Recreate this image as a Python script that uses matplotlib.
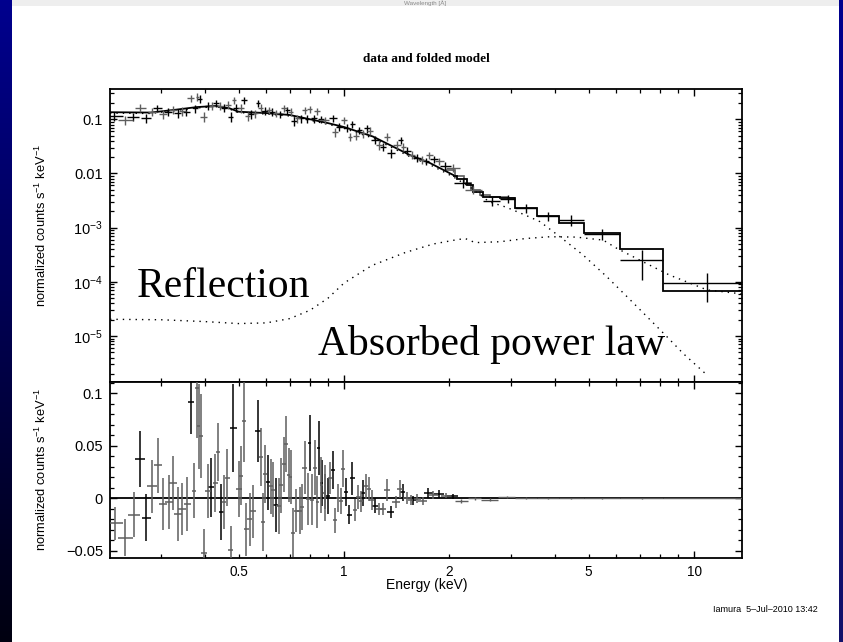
import numpy as np
import matplotlib
matplotlib.use("Agg")
import matplotlib.pyplot as plt
from matplotlib.patches import Rectangle
from matplotlib.colors import LinearSegmentedColormap
from matplotlib.ticker import FixedLocator, FuncFormatter, LogLocator, MultipleLocator, FixedFormatter, NullFormatter

# ---------------- data (energies in keV, counts s^-1 keV^-1) ----------------
# folded total model, smooth low-energy part
model_E = [0.2145, 0.28, 0.33, 0.38, 0.43, 0.47, 0.50, 0.60, 0.70, 0.80, 0.90, 1.00,
           1.21, 1.54, 1.76, 2.05]
model_v = [0.135, 0.133, 0.150, 0.168, 0.176, 0.160, 0.138, 0.130, 0.120, 0.100, 0.085,
           0.072, 0.048, 0.022, 0.0156, 0.0094]
# folded total model, binned high-energy part (instrument 1)
model_step_edges = [2.05, 2.10, 2.24, 2.33, 2.50, 2.79, 3.08, 3.55, 4.10, 4.85, 6.15, 8.15, 14.6]
model_step_vals = [0.0090, 0.0080, 0.0061, 0.0046, 0.0037, 0.0035, 0.0023, 0.00164, 0.00120,
                   0.00081, 0.000405, 0.000069]
# folded total model, binned (instrument 2)
model2_step_edges = [1.95, 2.08, 2.20, 2.30, 2.45, 2.62, 2.95, 3.08]
model2_step_vals = [0.0118, 0.0088, 0.0068, 0.0050, 0.0040, 0.0037, 0.0036]

# reflection component
refl_E = [0.2145, 0.30, 0.40, 0.50, 0.60, 0.70, 0.80, 0.90, 1.00, 1.20, 1.50, 1.80, 2.10,
          2.22, 2.37, 2.79, 3.30, 3.87, 4.60, 5.50, 6.00, 7.10, 8.50, 10.9, 13.7]
refl_v = [2.04e-5, 2.0e-5, 1.85e-5, 1.7e-5, 1.75e-5, 2.1e-5, 3.0e-5, 5.0e-5, 9.5e-5, 2.0e-4,
          3.5e-4, 5.0e-4, 6.0e-4, 6.3e-4, 5.3e-4, 5.5e-4, 6.3e-4, 6.8e-4, 6.7e-4, 5.9e-4,
          4.2e-4, 2.4e-4, 1.34e-4, 7.1e-5, 6.0e-5]

# absorbed power-law component
pl_E = [0.2145, 0.28, 0.33, 0.38, 0.43, 0.47, 0.50, 0.60, 0.70, 0.80, 0.90, 1.00, 1.21,
        1.54, 1.76, 2.05, 2.30, 2.60, 2.90, 3.30, 3.63, 4.14, 4.82, 5.63, 6.44, 7.50, 8.37,
        9.30, 10.9]
pl_v = [0.130, 0.128, 0.145, 0.162, 0.170, 0.155, 0.133, 0.125, 0.115, 0.096, 0.081, 0.068,
        0.045, 0.0205, 0.0145, 0.0087, 0.0055, 0.0030, 0.0024, 0.0017, 0.00129, 0.00068,
        0.000313, 0.000125, 0.000053, 0.0000198, 0.0000097, 0.0000048, 0.0000019]

# data points, fine bins
data_E = [0.220, 0.237, 0.249, 0.262, 0.272, 0.283, 0.293, 0.304, 0.314, 0.325, 0.335, 0.345,
          0.354, 0.365, 0.376, 0.381, 0.387, 0.398, 0.410, 0.420, 0.432, 0.441, 0.454, 0.466,
          0.474, 0.485, 0.492, 0.507, 0.518, 0.530, 0.541, 0.556, 0.568, 0.578, 0.593, 0.609,
          0.623, 0.641, 0.655, 0.674, 0.689, 0.704, 0.720, 0.736, 0.752, 0.772, 0.786, 0.798,
          0.821, 0.839, 0.861, 0.881, 0.928, 0.942, 0.970, 1.000, 1.018, 1.040, 1.056, 1.080,
          1.106, 1.130, 1.160, 1.186, 1.226, 1.262, 1.295, 1.325, 1.363, 1.414, 1.452, 1.477,
          1.517, 1.561, 1.614, 1.668, 1.715, 1.754, 1.810, 1.873, 1.948, 2.045, 2.181, 2.340]
data_v = [0.116, 0.097, 0.112, 0.164, 0.107, 0.138, 0.160, 0.124, 0.138, 0.148, 0.129, 0.142,
          0.138, 0.244, 0.160, 0.260, 0.237, 0.112, 0.178, 0.178, 0.197, 0.178, 0.164, 0.184,
          0.112, 0.227, 0.164, 0.160, 0.227, 0.116, 0.124, 0.129, 0.197, 0.164, 0.142, 0.148,
          0.138, 0.129, 0.124, 0.160, 0.148, 0.138, 0.093, 0.104, 0.104, 0.148, 0.101, 0.155,
          0.104, 0.142, 0.101, 0.097, 0.104, 0.058, 0.073, 0.097, 0.070, 0.048, 0.081, 0.050,
          0.063, 0.055, 0.068, 0.061, 0.0415, 0.0335, 0.0313, 0.048, 0.0236, 0.0335, 0.0415,
          0.0313, 0.026, 0.0219, 0.0195, 0.0178, 0.0170, 0.0219, 0.0185, 0.0170, 0.0139,
          0.0128, 0.0066, 0.0050]
data_err = [0.022, 0.018, 0.020, 0.026, 0.020, 0.024, 0.026, 0.022, 0.024, 0.025, 0.024, 0.025,
            0.024, 0.035, 0.027, 0.040, 0.040, 0.022, 0.030, 0.030, 0.032, 0.030, 0.028, 0.030,
            0.022, 0.036, 0.028, 0.028, 0.036, 0.022, 0.022, 0.022, 0.030, 0.026, 0.024, 0.024,
            0.022, 0.021, 0.020, 0.025, 0.023, 0.022, 0.018, 0.018, 0.018, 0.022, 0.017, 0.023,
            0.017, 0.021, 0.016, 0.015, 0.016, 0.011, 0.012, 0.015, 0.012, 0.009, 0.013, 0.009,
            0.010, 0.009, 0.011, 0.010, 0.007, 0.006, 0.0055, 0.008, 0.0042, 0.0055, 0.0065,
            0.005, 0.0042, 0.0036, 0.0032, 0.0029, 0.0027, 0.0034, 0.0029, 0.0026, 0.0022,
            0.0020, 0.0012, 0.0009]

# data points, wide high-energy bins
hi_lo = [2.50, 2.79, 3.08, 3.55, 4.10, 4.85, 6.15, 8.15]
hi_hi = [2.79, 3.08, 3.55, 4.10, 4.85, 6.15, 8.15, 14.6]
hi_v = [0.0031, 0.0034, 0.00228, 0.00164, 0.00138, 0.00078, 0.00025, 0.000094]
hi_err = [0.0006, 0.0006, 0.0004, 0.0003, 0.00032, 0.00018, 0.00014, 0.000051]

# residuals (data - model), fine bins
res_E = [0.2222, 0.2372, 0.2512, 0.2618, 0.2723, 0.2827, 0.2941, 0.3040, 0.3156, 0.3246,
         0.3355, 0.3444, 0.3560, 0.3648, 0.3728, 0.3795, 0.3846, 0.3897, 0.3981, 0.4087,
         0.4177, 0.4288, 0.4365, 0.4461, 0.4541, 0.4641, 0.4746, 0.4828, 0.5002, 0.5088,
         0.5180, 0.5259, 0.5378, 0.5495, 0.5679, 0.5781, 0.5870, 0.5959, 0.6066, 0.6175,
         0.6268, 0.6381, 0.6508, 0.6621, 0.6726, 0.6842, 0.6950, 0.7042, 0.7149, 0.7306,
         0.7470, 0.7601, 0.7721, 0.7891, 0.7981, 0.8102, 0.8248, 0.8389, 0.8467, 0.8612,
         0.8808, 0.8636, 0.8826, 0.9018, 0.9120, 0.9283, 0.9426, 0.9632, 0.9786, 0.9954,
         1.0132, 1.0354, 1.0561, 1.0750, 1.0986, 1.1161, 1.1353, 1.1557, 1.1788, 1.1998,
         1.2264, 1.2616, 1.2952, 1.3243, 1.3595, 1.4080, 1.4454, 1.4713, 1.5104, 1.5508,
         1.5776, 1.6196, 1.6784, 1.7413, 1.7992, 1.8719, 1.9561, 2.0446]
res_r = [-0.024, -0.0377, -0.0155, 0.0373, -0.0186, 0.0113, 0.0317, -0.0054, -0.0038, 0.0144,
         -0.0148, -0.0101, -0.0054, 0.092, 0.0072, 0.1047, 0.0688, 0.0594, -0.0525, 0.0072,
         0.0104, 0.0144, 0.0443, -0.0129, -0.0035, 0.0198, -0.049, 0.067, 0.0088, 0.0217,
         0.0735, -0.0296, -0.0202, -0.0123, 0.0641, 0.039, -0.0226, 0.0232, 0.0151, 0.0113,
         0.0081, -0.006, -0.0075, 0.0123, 0.0323, 0.0521, 0.0223, 0.0201, -0.0327, -0.0117,
         -0.0117, -0.0085, 0.0292, -0.0007, 0.0528, -0.0013, 0.0292, -0.0035, 0.0481, 0.0123,
         0.005, 0.0144, 0.0066, 0.0019, 0.0191, 0.027, -0.0211, 0.0003, -0.0028, 0.028,
         0.0059, -0.0155, 0.0191, -0.011, 0.0009, -0.0028, 0.005, 0.0113, 0.0088, -0.0013,
         -0.007, -0.0101, -0.0101, 0.0081, -0.0132, -0.0035, 0.0088, 0.0057, 0.0003, -0.0013,
         -0.0019, -0.0004, -0.0023, 0.005, 0.0028, 0.004, 0.0025, 0.0019]
res_err = [0.0157, 0.0176, 0.0212, 0.0264, 0.0223, 0.0251, 0.0262, 0.0244, 0.0256, 0.0256,
           0.0259, 0.0248, 0.0259, 0.031, 0.0262, 0.047, 0.0405, 0.0396, 0.023, 0.0259,
           0.0283, 0.0275, 0.0275, 0.0267, 0.0259, 0.0267, 0.023, 0.0416, 0.0267, 0.0283,
           0.0393, 0.0251, 0.0251, 0.0251, 0.0295, 0.0275, 0.0275, 0.0275, 0.0264, 0.0262,
           0.0262, 0.0258, 0.0267, 0.0259, 0.0259, 0.0267, 0.0259, 0.0259, 0.0236, 0.0204,
           0.022, 0.022, 0.0251, 0.0251, 0.0267, 0.0244, 0.0259, 0.0251, 0.0259, 0.0267,
           0.0267, 0.022, 0.0165, 0.0173, 0.015, 0.0181, 0.0118, 0.0129, 0.0126, 0.0176,
           0.0134, 0.0094, 0.0157, 0.0102, 0.0115, 0.0102, 0.0126, 0.0118, 0.0118, 0.0094,
           0.0071, 0.0058, 0.0058, 0.0107, 0.0055, 0.0055, 0.009, 0.0079, 0.0057, 0.0047,
           0.0044, 0.0044, 0.0039, 0.0047, 0.0039, 0.0035, 0.0027, 0.0025]
# instrument of each residual point (0 or 1)
res_inst = [1, 1, 1, 0, 0, 1, 1, 1, 1, 1,
            1, 1, 1, 0, 1, 1, 1, 1, 1, 1,
            0, 1, 1, 0, 1, 1, 1, 0, 1, 1,
            1, 1, 1, 1, 0, 1, 1, 1, 0, 1,
            1, 0, 1, 1, 1, 1, 1, 1, 1, 1,
            1, 1, 1, 1, 0, 1, 1, 1, 0, 1,
            1, 0, 1, 0, 1, 0, 1, 1, 1, 1,
            0, 0, 0, 1, 1, 1, 0, 1, 1, 1,
            0, 1, 1, 1, 0, 1, 1, 0, 1, 1,
            0, 1, 1, 0, 1, 0, 1, 0]

# residuals, wide high-energy bins
rhi_lo = [2.07, 2.26, 2.47, 2.76, 3.08, 3.55, 4.10, 4.85, 6.15, 8.15]
rhi_hi = [2.26, 2.47, 2.76, 3.08, 3.55, 4.10, 4.85, 6.15, 8.15, 14.6]
rhi_r = [-0.0023, 0.0, -0.0013, 0.0009, 0.0002, 0.0, -0.0002, 0.0001, -0.0001, 0.0]
rhi_err = [0.002, 0.0015, 0.0012, 0.001, 0.0008, 0.0006, 0.0005, 0.0004, 0.0003, 0.0002]

# axis ticks / labels
x_major = [1, 10]
x_minor = [0.3, 0.4, 0.5, 0.6, 0.7, 0.8, 0.9, 2, 3, 4, 5, 6, 7, 8, 9]
x_label_vals = [0.5, 1, 2, 5, 10]
x_label_text = ["0.5", "1", "2", "5", "10"]
y1_ticks = [1e-5, 1e-4, 1e-3, 0.01, 0.1]
y1_labels = [r"$\mathregular{10^{-5}}$", r"$\mathregular{10^{-4}}$", r"$\mathregular{10^{-3}}$", "0.01", "0.1"]
y2_ticks = [-0.05, 0, 0.05, 0.1]
y2_labels = ["\u22120.05", "0", "0.05", "0.1"]

# ---------------- figure ----------------
plt.rcParams["font.family"] = ["Liberation Sans", "DejaVu Sans"]
plt.rcParams["mathtext.fontset"] = "custom"
plt.rcParams["mathtext.rm"] = "Liberation Sans"
plt.rcParams["mathtext.it"] = "Liberation Sans:italic"
plt.rcParams["mathtext.bf"] = "Liberation Sans:bold"

W, H = 843, 642
fig = plt.figure(figsize=(W / 100, H / 100), dpi=100, facecolor="white")


def fx(px):
    return px / W


def fy(py):
    return 1 - py / H


# slide background pieces
bg = fig.add_axes([0, 0, 1, 1], zorder=-10)
bg.axis("off")
grad = np.linspace(0, 1, 256).reshape(-1, 1)
cmap_l = LinearSegmentedColormap.from_list("l", ["#00008e", "#000010"])
cmap_r = LinearSegmentedColormap.from_list("r", ["#00008e", "#12126a"])
bg.imshow(grad, cmap=cmap_l, extent=[0, 12, H, 0], aspect="auto", interpolation="bilinear")
bg.imshow(grad, cmap=cmap_r, extent=[839, W, H, 0], aspect="auto", interpolation="bilinear")
bg.add_patch(Rectangle((12, 0), 827, 6, color="#eeeeee", lw=0))
bg.set_xlim(0, W)
bg.set_ylim(H, 0)
fig.text(fx(425), fy(3.2), "Wavelength [\u00c5]", ha="center", va="center", fontsize=4.5, color="#8a8a8a")

ax1 = fig.add_axes([fx(110), fy(382), (742 - 110) / W, (382 - 89) / H])
ax2 = fig.add_axes([fx(110), fy(558), (742 - 110) / W, (558 - 382) / H], sharex=ax1)

ax1.set_xscale("log")
ax1.set_yscale("log")
ax1.set_xlim(0.2145, 13.71)
ax1.set_ylim(1.42e-6, 0.362)
ax2.set_ylim(-0.0569, 0.1108)

GRAY = "#5e5e5e"
dot = (0, (1, 3.6))


def log_halfwidths(E, factor=0.8):
    E = np.asarray(E, dtype=float)
    order = np.argsort(E)
    lg = np.log10(E[order])
    d = np.diff(lg)
    left = np.r_[d[0], d]
    right = np.r_[d, d[-1]]
    hw_sorted = factor * (left + right) / 2
    hw = np.empty_like(hw_sorted)
    hw[order] = hw_sorted
    lo = E - 10 ** (np.log10(E) - hw)
    hi = 10 ** (np.log10(E) + hw) - E
    return np.vstack([lo, hi])


# --- top panel ---
ax1.plot(model_E, model_v, color="k", lw=1.3, zorder=3)
ax1.stairs(model2_step_vals, model2_step_edges, baseline=None, color=GRAY, lw=1.2, zorder=2)
ax1.stairs(model_step_vals, model_step_edges, baseline=None, color="k", lw=1.3, zorder=3)
ax1.plot(refl_E, refl_v, color="k", lw=1.0, ls=dot, zorder=2)
ax1.plot(pl_E, pl_v, color="k", lw=1.0, ls=dot, zorder=2)

dE = np.asarray(data_E)
dv = np.asarray(data_v)
de = np.asarray(data_err)
xe = log_halfwidths(dE)
for k, c in ((0, "k"), (1, GRAY)):
    s = slice(k, None, 2)
    ax1.errorbar(dE[s], dv[s], xerr=xe[:, s], yerr=de[s], fmt="none", ecolor=c,
                 elinewidth=1.0, capsize=0, zorder=4)

hlo = np.asarray(hi_lo)
hhi = np.asarray(hi_hi)
hc = np.sqrt(hlo * hhi)
ax1.errorbar(hc, hi_v, xerr=[hc - hlo, hhi - hc], yerr=hi_err, fmt="none", ecolor="k",
             elinewidth=1.0, capsize=0, zorder=4)

# --- residual panel ---
ax2.axhline(0, color="k", lw=1.3, zorder=3)
rE = np.asarray(res_E)
rr = np.asarray(res_r)
re_ = np.asarray(res_err)
ri = np.asarray(res_inst)
rxe = log_halfwidths(rE)
for k, c in ((0, "k"), (1, GRAY)):
    m = ri == k
    ax2.errorbar(rE[m], rr[m], xerr=rxe[:, m], yerr=re_[m], fmt="none", ecolor=c,
                 elinewidth=1.1, capsize=0, zorder=4)
rlo = np.asarray(rhi_lo)
rhh = np.asarray(rhi_hi)
rc = np.sqrt(rlo * rhh)
ax2.errorbar(rc, rhi_r, xerr=[rc - rlo, rhh - rc], yerr=rhi_err, fmt="none", ecolor=GRAY,
             elinewidth=1.0, capsize=0, zorder=4)

# --- ticks ---
lab = dict(zip(x_label_vals, x_label_text))
xfmt = FuncFormatter(lambda v, p: lab.get(round(v, 3), ""))
ax2.xaxis.set_major_locator(FixedLocator(x_major))
ax2.xaxis.set_minor_locator(FixedLocator(x_minor))
ax2.xaxis.set_major_formatter(xfmt)
ax2.xaxis.set_minor_formatter(xfmt)

ax1.yaxis.set_major_locator(FixedLocator(y1_ticks))
ax1.yaxis.set_major_formatter(FixedFormatter(y1_labels))
ax1.yaxis.set_minor_locator(LogLocator(base=10, subs=np.arange(2, 10), numticks=20))
ax1.yaxis.set_minor_formatter(NullFormatter())

ax2.yaxis.set_major_locator(FixedLocator(y2_ticks))
ax2.yaxis.set_major_formatter(FixedFormatter(y2_labels))
ax2.yaxis.set_minor_locator(MultipleLocator(0.01))

for ax in (ax1, ax2):
    ax.tick_params(which="both", direction="in", top=True, right=True, bottom=True, left=True)
    ax.tick_params(which="major", length=5, width=1.0)
    ax.tick_params(which="minor", length=2.6, width=0.9)
    ax.tick_params(axis="y", which="both", labelsize=10.5, pad=5)
    for sp in ax.spines.values():
        sp.set_linewidth(1.3)
ax1.tick_params(axis="x", which="both", labelbottom=False)
ax2.tick_params(axis="x", which="both", labelsize=9.8, pad=5)

# --- texts ---
fig.text(fx(426), fy(59), "data and folded model", family=["Liberation Serif", "DejaVu Serif"],
         weight="bold", fontsize=9.5, ha="center", va="center")
ylab = r"normalized counts s$^{-1}$ keV$^{-1}$"
fig.text(fx(41), fy(226), ylab, rotation=90, ha="center", va="center", fontsize=9.3)
fig.text(fx(41), fy(470), ylab, rotation=90, ha="center", va="center", fontsize=9.3)
fig.text(fx(427), fy(585), "Energy (keV)", ha="center", va="center", fontsize=10)
fig.text(fx(818), fy(609), "Iamura  5\u2013Jul\u20132010 13:42", ha="right", va="center", fontsize=6.5)

serif = ["Liberation Serif", "DejaVu Serif"]
fig.text(fx(137), fy(297), "Reflection", family=serif, fontsize=30, ha="left", va="baseline")
fig.text(fx(318), fy(355), "Absorbed power law", family=serif, fontsize=30, ha="left", va="baseline")

fig.savefig("out.png", dpi=100, facecolor="white")
